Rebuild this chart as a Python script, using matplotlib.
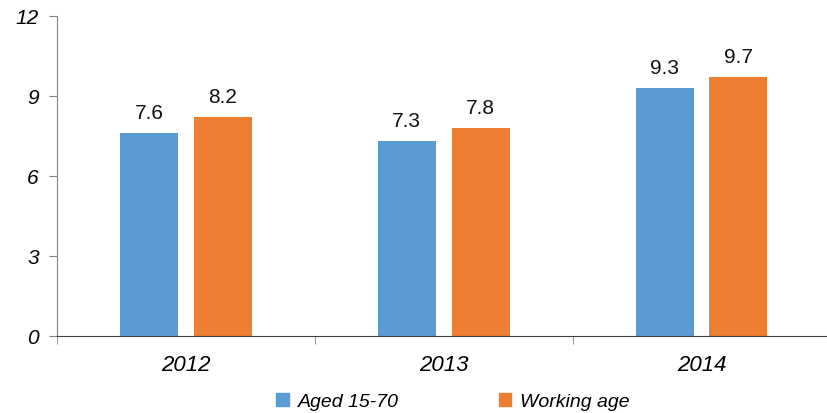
import numpy as np
import matplotlib.pyplot as plt
from matplotlib.patches import Patch

# data
years = ['2012', '2013', '2014']
aged_15_70 = [7.6, 7.3, 9.3]
working_age = [8.2, 7.8, 9.7]
yticks = [0, 3, 6, 9, 12]

blue = '#5B9BD5'
orange = '#ED7D31'

plt.rcParams['font.family'] = ['Liberation Sans', 'DejaVu Sans']

fig = plt.figure(figsize=(8.28, 4.14), dpi=100)
ax = fig.add_axes([0.0688, 0.186, 0.934, 0.773])

x = np.arange(len(years))
w = 0.225
off = 0.143
b1 = ax.bar(x - off, aged_15_70, width=w, color=blue)
b2 = ax.bar(x + off, working_age, width=w, color=orange)

for bars, vals in ((b1, aged_15_70), (b2, working_age)):
    for rect, v in zip(bars, vals):
        ax.text(rect.get_x() + rect.get_width() / 2, v + 0.42, f'{v:.1f}',
                ha='center', va='bottom', fontsize=15, color='#111111')

ax.set_xlim(-0.5, len(years) - 0.5)
ax.set_ylim(0, 12)
ax.set_yticks(yticks)
ax.set_yticklabels([str(t) for t in yticks], fontsize=15, fontstyle='italic')

# category labels centred, tick marks at group boundaries
ax.set_xticks(x)
ax.set_xticklabels(years, fontsize=16, fontstyle='italic')
ax.tick_params(axis='x', length=0, pad=13)
ax.set_xticks(np.arange(len(years) + 1) - 0.5, minor=True)
ax.tick_params(axis='x', which='minor', length=6, color='#808080', direction='out')
ax.tick_params(axis='y', length=6, color='#808080', direction='out', pad=7)

for s in ('top', 'right'):
    ax.spines[s].set_visible(False)
ax.spines['left'].set_color('#808080')
ax.spines['bottom'].set_color('#404040')

handles = [Patch(color=blue, label='Aged 15-70'), Patch(color=orange, label='Working age')]
fig.legend(handles=handles, loc='lower center', bbox_to_anchor=(0.547, -0.035), ncol=2,
           frameon=False, prop={'size': 14, 'style': 'italic'},
           handlelength=0.65, handleheight=0.65, columnspacing=5.15, handletextpad=0.45)

fig.savefig('out.png', dpi=100)
